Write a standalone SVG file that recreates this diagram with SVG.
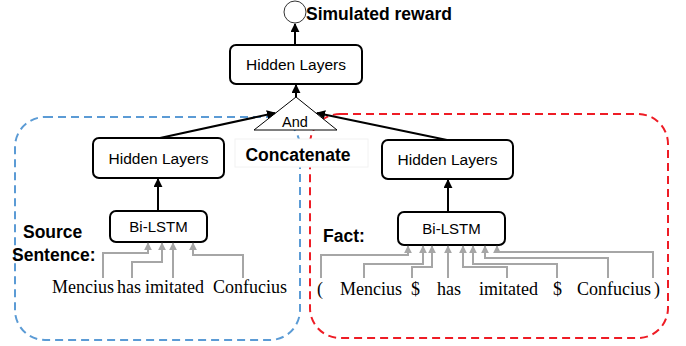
<svg xmlns="http://www.w3.org/2000/svg" width="686" height="346" viewBox="0 0 686 346">
<defs>
<style>
.box{fill:#fff;stroke:#000;stroke-width:2}
.lbl{font-family:"Liberation Sans",Arial,sans-serif;font-size:15.5px;fill:#000;text-anchor:middle}
.bold{font-family:"Liberation Sans",Arial,sans-serif;font-weight:bold;font-size:17.5px;fill:#000}
.word{font-family:"Liberation Serif","Times New Roman",serif;font-size:18px;fill:#000}
.blk{fill:none;stroke:#000;stroke-width:2;marker-end:url(#ah)}
.gry{fill:none;stroke:#a6a6a6;stroke-width:2;marker-end:url(#gh)}
</style>
<marker id="ah" viewBox="0 0 10 10" refX="9" refY="5" markerWidth="4.5" markerHeight="4.5" orient="auto" markerUnits="strokeWidth"><path d="M0,0 L10,5 L0,10 Z" fill="#000"/></marker>
<marker id="gh" viewBox="0 0 10 10" refX="9" refY="5" markerWidth="4" markerHeight="4" orient="auto" markerUnits="strokeWidth"><path d="M0,0 L10,5 L0,10 Z" fill="#a6a6a6"/></marker>
</defs>
<rect width="686" height="346" fill="#fff"/>
<g id="source-region"><rect x="15" y="117" width="285" height="223" rx="30" fill="none" stroke="#5b9bd5" stroke-width="2" stroke-dasharray="8,5"/></g>
<g id="fact-region"><rect x="310" y="114" width="358" height="224" rx="30" fill="none" stroke="#ee1c25" stroke-width="2" stroke-dasharray="8,5"/></g>
<g id="concatenate"><rect x="235" y="139" width="133" height="28" fill="#fff" stroke="#f2f2f2" stroke-width="1"/><text class="bold" x="298" y="161" text-anchor="middle">Concatenate</text></g>
<g id="reward"><circle cx="295" cy="12" r="11" fill="#fff" stroke="#333" stroke-width="1"/><text class="bold" x="306" y="20">Simulated reward</text></g>
<g id="hidden-top"><rect class="box" x="230" y="45" width="132" height="39" rx="6"/><text class="lbl" x="296" y="70">Hidden Layers</text></g>
<g id="and"><polygon points="296,97 337,130 254,130" fill="#fff" stroke="#000" stroke-width="1"/><text class="lbl" x="295" y="127" style="font-size:14.5px">And</text></g>
<g id="hidden-left"><rect class="box" x="93" y="138" width="131" height="40" rx="6"/><text class="lbl" x="158.5" y="164">Hidden Layers</text></g>
<g id="hidden-right"><rect class="box" x="382" y="140" width="131" height="39" rx="6"/><text class="lbl" x="447.5" y="165">Hidden Layers</text></g>
<g id="bilstm-left"><rect class="box" x="110" y="211" width="97" height="31" rx="6"/><text class="lbl" x="158.5" y="232" style="font-size:15px">Bi-LSTM</text></g>
<g id="bilstm-right"><rect class="box" x="398" y="212" width="107" height="33" rx="6"/><text class="lbl" x="451.5" y="234" style="font-size:15px">Bi-LSTM</text></g>
<g id="source-label"><text class="bold" x="23" y="238">Source</text><text class="bold" x="12" y="261">Sentence:</text></g>
<g id="fact-label"><text class="bold" x="323" y="242">Fact:</text></g>
<g id="source-words">
<text class="word" x="52" y="293">Mencius</text><text class="word" x="117" y="293">has</text><text class="word" x="145" y="293">imitated</text><text class="word" x="213" y="293">Confucius</text>
</g>
<g id="fact-words">
<text class="word" x="317" y="295">(</text><text class="word" x="340" y="295">Mencius</text><text class="word" x="411" y="295">$</text><text class="word" x="437" y="295">has</text><text class="word" x="479" y="295">imitated</text><text class="word" x="553" y="295">$</text><text class="word" x="577" y="295">Confucius</text><text class="word" x="654" y="295">)</text>
</g>
<g id="connectors">
<line class="blk" x1="295" y1="45" x2="295" y2="24"/>
<line class="blk" x1="296" y1="97" x2="296" y2="85"/>
<line class="blk" x1="160" y1="138" x2="275" y2="113"/>
<line class="blk" x1="447" y1="140" x2="317" y2="113"/>
<line class="blk" x1="158" y1="211" x2="158" y2="179"/>
<line class="blk" x1="448" y1="212" x2="448" y2="180"/>
<polyline class="gry" points="103,278 103,253 148,253 148,243"/>
<polyline class="gry" points="132,278 132,262 162,262 162,243"/>
<polyline class="gry" points="173,278 173,243"/>
<polyline class="gry" points="243,278 243,255 193,255 193,243"/>
<polyline class="gry" points="321,278 321,255 408,255 408,246"/>
<polyline class="gry" points="364,278 364,264 423,264 423,246"/>
<polyline class="gry" points="412,278 412,267 432,267 432,246"/>
<polyline class="gry" points="448,278 448,246"/>
<polyline class="gry" points="507,278 507,267 463,267 463,246"/>
<polyline class="gry" points="557,278 557,264 473,264 473,246"/>
<polyline class="gry" points="608,278 608,258 485,258 485,246"/>
<polyline class="gry" points="653,278 653,252 497,252 497,246"/>
</g>
</svg>
